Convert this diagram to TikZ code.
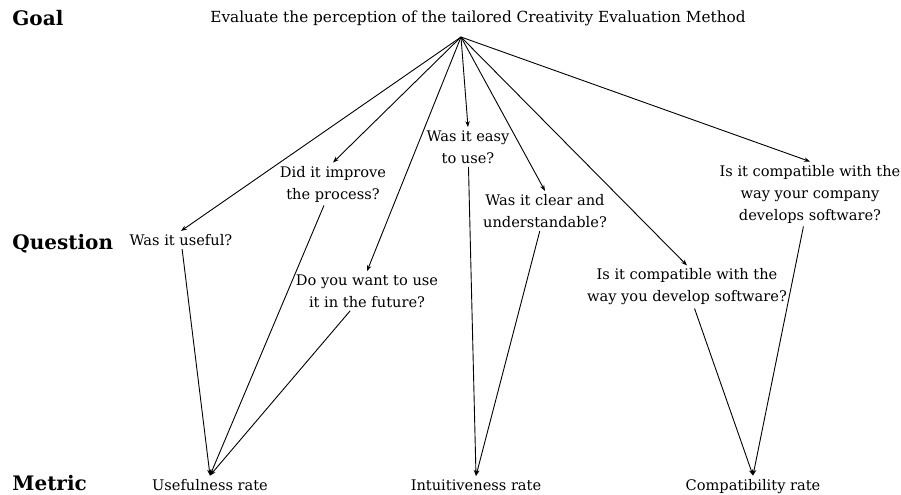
\documentclass[tikz,border=0pt]{standalone}
\usepackage{fontspec}
\setmainfont{DejaVu Serif}
\usepackage{tikz}
\usetikzlibrary{arrows.meta, positioning}

\tikzset{
  level/.style={anchor=west, font=\fontsize{10}{12}\selectfont\bfseries, inner sep=0pt},
  qtext/.style={align=center, font=\fontsize{7.3}{11}\selectfont, inner sep=1.5pt},
  mtext/.style={qtext, anchor=base},
  link/.style={-{Stealth[length=3pt, width=2.2pt]}, line width=0.45pt, black}
}

\begin{document}
\begin{tikzpicture}[x=0.5pt, y=-0.5pt]
  \useasboundingbox (0,0) rectangle (901,494);

  % Level labels
  \node[level] (lgoal) at (12, 18) {Goal};
  \node[level] (lquest) at (12, 244) {Question};
  \node[level] (lmetric) at (12, 483) {Metric};

  % Goal
  \node[qtext, font=\fontsize{7.65}{11}\selectfont] (goal) at (478, 18) {Evaluate the perception of the tailored Creativity Evaluation Method};
  \coordinate (apex) at (461, 37);

  % Questions
  \node[qtext] (useful) at (181, 240) {Was it useful?};
  \node[qtext] (improve) at (333, 184) {Did it improve\\the process?};
  \node[qtext] (easy) at (468, 147) {Was it easy\\to use?};
  \node[qtext] (clear) at (545, 211) {Was it clear and\\understandable?};
  \node[qtext] (future) at (367, 291) {Do you want to use\\it in the future?};
  \node[qtext] (develop) at (687, 287) {Is it compatible with the\\way you develop software?};
  \node[qtext] (company) at (810, 194) {Is it compatible with the\\way your company\\develops software?};

  % Metrics
  \node[mtext] (usefulness) at (210, 490) {Usefulness rate};
  \node[mtext] (intuitive) at (476, 490) {Intuitiveness rate};
  \node[mtext] (compat) at (753, 490) {Compatibility rate};

  % Goal to questions
  \foreach \q in {useful, improve, easy, clear, future, develop, company}
    \draw[link] (apex) -- (\q.north);

  % Questions to metrics
  \draw[link] (useful) -- (usefulness.north);
  \draw[link] (improve) -- (usefulness.north);
  \draw[link] (future) -- (usefulness.north);
  \draw[link] (easy) -- (intuitive.north);
  \draw[link] (clear) -- (intuitive.north);
  \draw[link] (develop) -- (compat.north);
  \draw[link] (company) -- (compat.north);
\end{tikzpicture}
\end{document}
